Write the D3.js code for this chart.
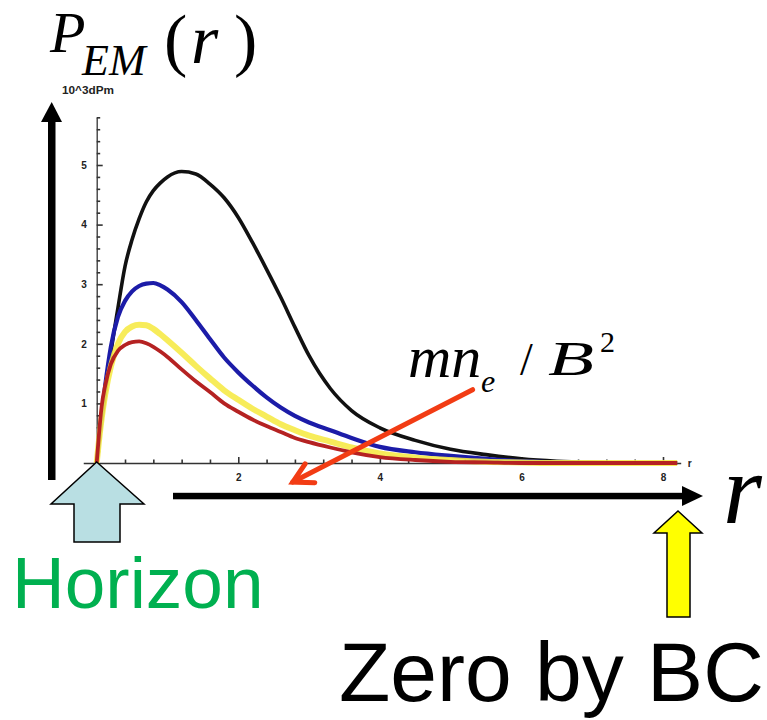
<!DOCTYPE html>
<html>
<head>
<meta charset="utf-8">
<script src="https://cdn.jsdelivr.net/npm/d3@7/dist/d3.min.js"></script>
<style>
  html, body { margin: 0; padding: 0; background: #fff; }
  svg { display: block; }
</style>
</head>
<body>
<svg id="chart" width="767" height="720"></svg>
<script>
// ---- data ----
const rValues = [0, 0.03, 0.07, 0.12, 0.2, 0.3, 0.4, 0.5, 0.6, 0.7, 0.8, 0.9, 1.0, 1.2, 1.4, 1.6, 1.8, 2.0, 2.2, 2.4, 2.6, 2.8, 3.0, 3.3, 3.6, 4.0, 4.5, 5.0, 5.5, 6.0, 6.5, 7.0, 7.5, 8.2];
const blackSeries  = [0, 0.3, 0.7, 1.15, 1.85, 2.6, 3.3, 3.75, 4.1, 4.38, 4.57, 4.7, 4.8, 4.89, 4.85, 4.68, 4.45, 4.12, 3.7, 3.25, 2.78, 2.28, 1.8, 1.25, 0.88, 0.59, 0.38, 0.23, 0.14, 0.07, 0.03, 0.01, 0, 0];
const blueSeries   = [0, 0.35, 0.8, 1.3, 1.95, 2.45, 2.72, 2.88, 2.97, 3.01, 3.02, 2.98, 2.91, 2.7, 2.4, 2.08, 1.77, 1.52, 1.3, 1.1, 0.93, 0.79, 0.68, 0.55, 0.42, 0.27, 0.18, 0.12, 0.07, 0.03, 0.01, 0, 0, 0];
const yellowSeries = [0, 0.35, 0.75, 1.15, 1.62, 2.0, 2.2, 2.29, 2.32, 2.31, 2.25, 2.16, 2.06, 1.85, 1.63, 1.42, 1.22, 1.06, 0.91, 0.78, 0.65, 0.55, 0.46, 0.36, 0.26, 0.16, 0.09, 0.05, 0.02, 0.01, 0, 0, 0, 0];
const redSeries    = [0, 0.45, 0.95, 1.3, 1.66, 1.88, 1.98, 2.03, 2.04, 2.01, 1.95, 1.87, 1.78, 1.57, 1.37, 1.19, 1.0, 0.86, 0.73, 0.62, 0.52, 0.42, 0.35, 0.26, 0.18, 0.1, 0.05, 0.02, 0.01, 0, 0, 0, 0, 0];
const xMajorTicks = [2, 4, 6, 8];
const xTickLabels = ["2", "4", "6", "8"];
const yMajorTicks = [1, 2, 3, 4, 5];
const yTickLabels = ["1", "2", "3", "4", "5"];
const yUnitLabel = "10^3dPm";
const xUnitLabel = "r";

const svg = d3.select("#chart");

// ---- scales ----
const x = d3.scaleLinear().domain([0, 8]).range([96.7, 663]);
const y = d3.scaleLinear().domain([0, 5]).range([463, 165]);

// ---- axes (Mathematica style: ticks inward) ----
const xAxisScale = d3.scaleLinear().domain([-0.19, 8.25]).range([x(-0.19), x(8.25)]);
const yAxisScale = d3.scaleLinear().domain([0, 5.8]).range([y(0), y(5.8)]);

const xMinor = d3.range(0.4, 8.21, 0.4).filter(v => Math.abs(v / 2 - Math.round(v / 2)) > 1e-6);
const yMinor = d3.range(0.2, 5.81, 0.2).filter(v => Math.abs(v - Math.round(v)) > 1e-6);

const axisColor = "#333";

const gx = svg.append("g").attr("transform", `translate(0,${y(0)})`);
gx.call(d3.axisBottom(xAxisScale).tickValues(xMajorTicks).tickFormat((d, i) => xTickLabels[i])
  .tickSize(-6).tickSizeOuter(0).tickPadding(11));
gx.append("g").call(d3.axisBottom(xAxisScale).tickValues(xMinor).tickFormat("").tickSize(-3.5).tickSizeOuter(0))
  .select(".domain").remove();

const gy = svg.append("g").attr("transform", `translate(${x(0)},0)`);
gy.call(d3.axisLeft(yAxisScale).tickValues(yMajorTicks).tickFormat((d, i) => yTickLabels[i])
  .tickSize(-6).tickSizeOuter(0).tickPadding(10));
gy.append("g").call(d3.axisLeft(yAxisScale).tickValues(yMinor).tickFormat("").tickSize(-3.5).tickSizeOuter(0))
  .select(".domain").remove();

svg.selectAll(".domain").attr("stroke", axisColor).attr("stroke-width", 1.3);
svg.selectAll(".tick line").attr("stroke", axisColor).attr("stroke-width", 1.6);
svg.selectAll(".tick text").attr("font-family", "Liberation Sans, Arial, sans-serif")
  .attr("font-weight", "bold").attr("font-size", 10).attr("fill", "#222");

svg.append("text").attr("x", xAxisScale(8.25) + 7).attr("y", y(0) + 4)
  .attr("font-family", "Liberation Sans, Arial, sans-serif").attr("font-weight", "bold")
  .attr("font-size", 10).attr("fill", "#222").text(xUnitLabel);
svg.append("text").attr("x", 62).attr("y", 94)
  .attr("font-family", "Liberation Sans, Arial, sans-serif").attr("font-weight", "bold")
  .attr("font-size", 10).attr("textLength", 52).attr("lengthAdjust", "spacingAndGlyphs")
  .attr("fill", "#222").text(yUnitLabel);

// ---- curves ----
const line = d3.line().x(d => x(d[0])).y(d => y(d[1])).curve(d3.curveMonotoneX);
const series = [
  { vals: blackSeries,  color: "#111111", width: 3.6, op: 1 },
  { vals: blueSeries,   color: "#1c1ca8", width: 4.2, op: 1 },
  { vals: yellowSeries, color: "#f6ea48", width: 6,   op: 0.9 },
  { vals: redSeries,    color: "#b52222", width: 3.8, op: 1 }
];
series.forEach(s => {
  svg.append("path")
    .datum(rValues.map((r, i) => [r, s.vals[i]]))
    .attr("d", line)
    .attr("fill", "none")
    .attr("stroke", s.color)
    .attr("stroke-width", s.width)
    .attr("stroke-opacity", s.op)
    .attr("stroke-linejoin", "round");
});

// ---- big outer axis arrows ----
svg.append("rect").attr("x", 48).attr("y", 118).attr("width", 7.5).attr("height", 362).attr("fill", "#000");
svg.append("path").attr("d", "M41,122 L62,122 L51.7,102 Z").attr("fill", "#000");
svg.append("rect").attr("x", 173).attr("y", 492.8).attr("width", 512).attr("height", 6.5).attr("fill", "#000");
svg.append("path").attr("d", "M682,486 L703,496 L682,506 Z").attr("fill", "#000");

// ---- horizon arrow ----
svg.append("path")
  .attr("d", `M${x(0)},462 L144,504 L120,504 L120,542 L74,542 L74,504 L51,504 Z`)
  .attr("fill", "#b9dfe3").attr("stroke", "#000").attr("stroke-width", 1.5).attr("stroke-linejoin", "miter");

// ---- boundary-condition arrow ----
svg.append("path")
  .attr("d", "M678,511 L702,533 L690,533 L690,617 L667,617 L667,533 L654,533 Z")
  .attr("fill", "#ffff00").attr("stroke", "#000").attr("stroke-width", 1.5);

// ---- red annotation arrow (in data coords) ----
const tail = [x(5.31), y(1.23)], tip = [x(2.77), y(-0.32)];
svg.append("line").attr("x1", tail[0]).attr("y1", tail[1]).attr("x2", tip[0]).attr("y2", tip[1])
  .attr("stroke", "#f23c14").attr("stroke-width", 5).attr("stroke-linecap", "round");
{
  const ang = Math.atan2(tail[1] - tip[1], tail[0] - tip[0]);
  const L = 22, a = 0.5;
  const p1 = [tip[0] + L * Math.cos(ang + a), tip[1] + L * Math.sin(ang + a)];
  const p2 = [tip[0] + L * Math.cos(ang - a), tip[1] + L * Math.sin(ang - a)];
  svg.append("path").attr("d", `M${p1[0]},${p1[1]} L${tip[0]},${tip[1]} L${p2[0]},${p2[1]}`)
    .attr("fill", "none").attr("stroke", "#f23c14").attr("stroke-width", 5)
    .attr("stroke-linecap", "round").attr("stroke-linejoin", "miter");
}

// ---- texts ----
const serif = "Liberation Serif, Times New Roman, serif";
const sans = "Liberation Sans, Arial, sans-serif";
function txt(t, xx, yy, size, opts = {}) {
  const el = svg.append("text").attr("x", xx).attr("y", yy)
    .attr("font-family", opts.family || serif)
    .attr("font-style", opts.italic ? "italic" : "normal")
    .attr("font-size", size).attr("fill", opts.fill || "#000").text(t);
  if (opts.len) el.attr("textLength", opts.len).attr("lengthAdjust", "spacingAndGlyphs");
  return el;
}
// P_EM (r)
txt("P", 50, 52, 58, { italic: true });
txt("EM", 82, 75, 44, { italic: true });
txt("(", 164, 63, 70);
txt("r", 191, 63, 70, { italic: true });
txt(")", 234, 63, 70);

// mn_e / B^2  (one text with tspans)
{
  const t = svg.append("text").attr("x", 408).attr("y", 377)
    .attr("font-family", serif).attr("font-style", "italic").attr("font-size", 60).attr("fill", "#000");
  t.append("tspan").text("mn");
  t.append("tspan").attr("x", 481).attr("y", 392).attr("font-size", 32).text("e");
  t.append("tspan").attr("x", 520).attr("y", 375).attr("font-size", 46).attr("font-style", "normal").text("/");
  t.append("tspan").attr("x", 548).attr("y", 375).attr("font-size", 48)
    .attr("textLength", 46).attr("lengthAdjust", "spacingAndGlyphs").text("B");
  t.append("tspan").attr("x", 600).attr("y", 352).attr("font-size", 30).attr("font-style", "normal").text("2");
}

// big r
txt("r", 723, 523, 100, { italic: true });

// labels
txt("Horizon", 12, 608, 73, { family: sans, fill: "#00b050" });
txt("Zero by BC", 339, 701, 84, { family: sans });
</script>
</body>
</html>
